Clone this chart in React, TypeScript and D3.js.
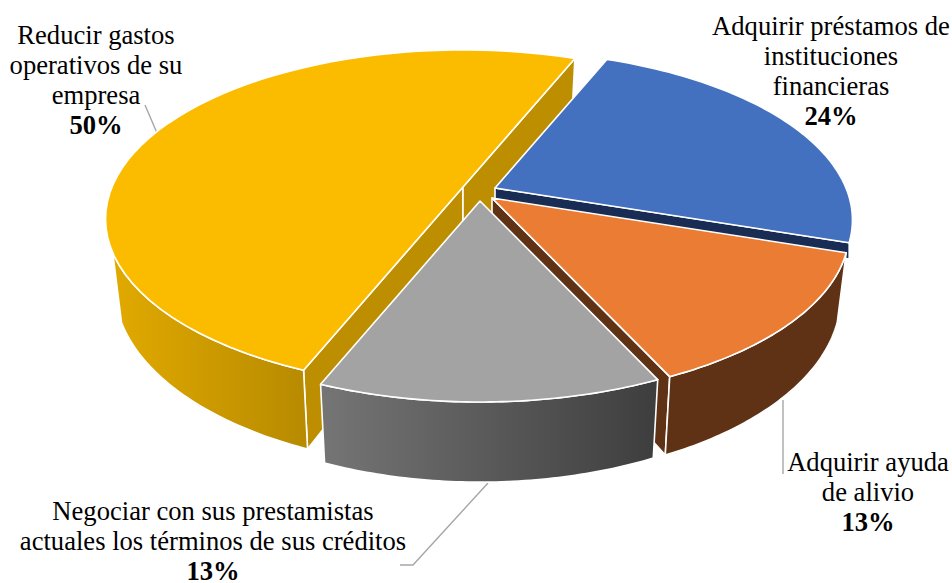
import React from "react";
import * as d3 from "d3";

const categories = ["Adquirir préstamos de instituciones financieras", "Adquirir ayuda de alivio", "Negociar con sus prestamistas actuales los términos de sus créditos", "Reducir gastos operativos de su empresa"];
const values = [24, 13, 13, 50];
const valueLabels = ["24%", "13%", "13%", "50%"];
const topColors = ["#4371c0", "#eb7c33", "#a3a3a3", "#fbbc00"];
const sideColors = ["#192d54", "#5f3215", "#4a4a4a", "#bc8e00"];

const labelLines = [
  ["Adquirir préstamos de", "instituciones", "financieras"],
  ["Adquirir ayuda", "de alivio"],
  ["Negociar con sus prestamistas", "actuales los términos de sus créditos"],
  ["Reducir gastos", "operativos de su", "empresa"],
];
const labelPos = [
  { x: 831, y: 35 },
  { x: 868, y: 471 },
  { x: 213, y: 520 },
  { x: 96, y: 44 },
];
const apexes: [number, number][] = [[495, 188], [492, 198], [480, 201], [463, 187]];
const leaders: [number, number][][] = [
  [],
  [[783, 400], [783, 474]],
  [[488, 483], [413, 565], [400, 565]],
  [[145, 105], [157, 133]],
];

const RX = 351, RY = 163, K = 0.189, DEPTH = 65, BOTTOM_X = 0.975;
const FONT = "'Liberation Serif','Times New Roman',serif";
const YELLOW_WALL_END = (248 * Math.PI) / 180;

const pie = d3.pie<number>().sort(null).startAngle((22 * Math.PI) / 180).endAngle((382 * Math.PI) / 180);
const arcs = pie(values);

const pt = (a: number, apex: [number, number], frac: number): [number, number] => {
  const u = Math.sin(a), v = -Math.cos(a);
  const w = 1 / (1 - K * v);
  const sx = 1 - (1 - BOTTOM_X) * frac;
  return [apex[0] + sx * RX * u * w, apex[1] + RY * v * w + DEPTH * frac * w];
};
const line = d3.line<[number, number]>().x((d) => d[0]).y((d) => d[1]);

const samples = (a0: number, a1: number) => d3.range(0, 61).map((i) => d3.interpolateNumber(a0, a1)(i / 60));

function Slice({ i }: { i: number }) {
  const { startAngle: a0, endAngle: a1 } = arcs[i];
  const apex = apexes[i];
  const topArc = samples(a0, a1).map((a) => pt(a, apex, 0));
  const stroke = { stroke: "#fff", strokeWidth: 1.6, strokeLinejoin: "round" as const };

  // Outer wall: only the part that faces the viewer.
  let wall: React.ReactNode = null;
  if (i !== 0) {
    const wa1 = i === 3 ? YELLOW_WALL_END : a1;
    const as = samples(a0, wa1);
    const t = as.map((a) => pt(a, apex, 0));
    const b = as.map((a) => pt(a, apex, 1));
    const fill = i === 3 ? "url(#gradY)" : i === 2 ? "url(#gradG)" : sideColors[i];
    wall = <path d={line([...t, ...b.slice().reverse()])! + "Z"} fill={fill} {...stroke} />;
  }

  // Radial faces. The blue slice only shows a thin strip above the orange slice.
  const face = (a: number, frac: number) => {
    const p1 = pt(a, apex, 0);
    const p2 = i === 0 ? [p1[0], p1[1] + DEPTH * frac] as [number, number] : pt(a, apex, frac);
    return [apex, p1, p2, [apex[0], apex[1] + DEPTH * frac] as [number, number]];
  };
  const showStart = i === 3;
  const showEnd = i === 0 || i === 1 || i === 3;
  const endFrac = i === 0 ? 0.25 : 1;

  return (
    <g>
      {showStart && <path d={line(face(a0, 1))! + "Z"} fill={sideColors[i]} {...stroke} />}
      {showEnd && <path d={line(face(a1, endFrac))! + "Z"} fill={sideColors[i]} {...stroke} />}
      {wall}
      <path d={line([apex, ...topArc])! + "Z"} fill={topColors[i]} {...stroke} />
    </g>
  );
}

export default function App() {
  const order = [3, 0, 1, 2];
  return (
    <svg width={952} height={583} style={{ position: "absolute", left: 0, top: 0, background: "#fff" }}>
      <title>{categories.join(", ")}</title>
      <defs>
        <linearGradient id="gradY" gradientUnits="userSpaceOnUse" x1={106} x2={320} y1={0} y2={0}>
          <stop offset="0" stopColor="#e3ab00" />
          <stop offset="1" stopColor="#b48800" />
        </linearGradient>
        <linearGradient id="gradG" gradientUnits="userSpaceOnUse" x1={322} x2={655} y1={0} y2={0}>
          <stop offset="0" stopColor="#757575" />
          <stop offset="1" stopColor="#3e3e3e" />
        </linearGradient>
      </defs>
      {leaders.map((l, i) =>
        l.length ? <path key={i} d={line(l)!} fill="none" stroke="#a6a6a6" strokeWidth={1.4} /> : null
      )}
      {order.map((i) => <Slice key={i} i={i} />)}
      {labelLines.map((lines, i) => (
        <text key={i} textAnchor="middle" fontFamily={FONT} fontSize={26.6} fill="#000">
          {lines.map((t, j) => (
            <tspan key={j} x={labelPos[i].x} y={labelPos[i].y + j * 30}>{t}</tspan>
          ))}
          <tspan x={labelPos[i].x} y={labelPos[i].y + lines.length * 30} fontWeight="bold">{valueLabels[i]}</tspan>
        </text>
      ))}
    </svg>
  );
}
